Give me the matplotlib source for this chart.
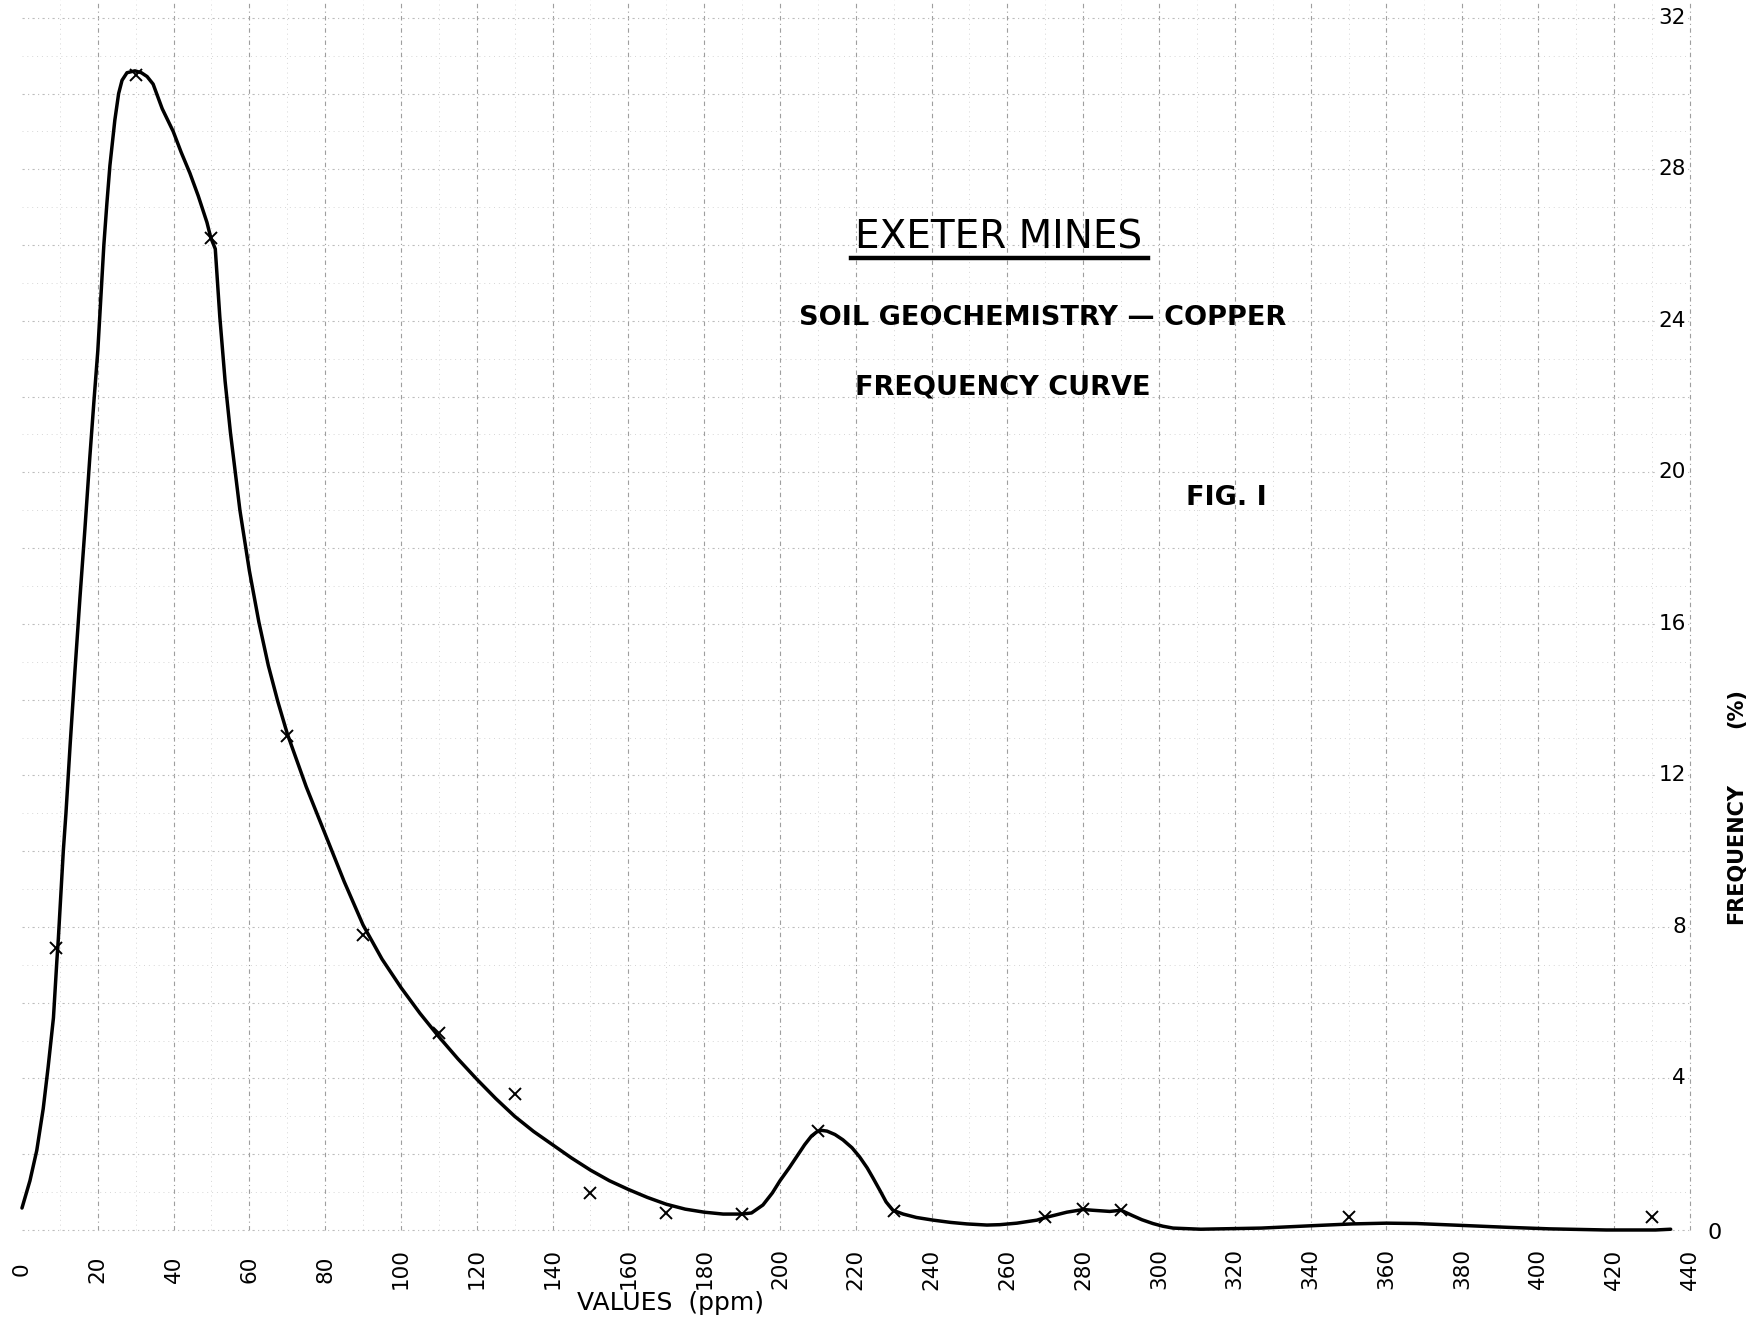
import matplotlib.pyplot as plt

# values
value_ticks = list(range(0, 441, 20))
freq_ticks = [4, 8, 12, 16, 20, 24, 28, 32]

# plotted points (x marks)
point_ppm = [9, 30, 50, 70, 90, 110, 130, 150, 170, 190, 210, 230, 270, 280, 290, 350, 430]
point_freq = [7.45, 30.5, 26.2, 13.05, 7.8, 5.2, 3.6, 0.97, 0.45, 0.42, 2.61, 0.5, 0.35, 0.55, 0.53, 0.34, 0.33]

# hand drawn curve, traced
curve_ppm = [0, 2.1, 3.9, 5.6, 6.9, 8.3, 9.2, 9.6, 10.9, 11.6, 12.7, 14.0, 15.3, 16.6, 17.9, 19.0,
             20.0, 20.8, 21.6, 22.4, 23.2, 24.5, 25.5, 26.4, 27.7, 29.8, 31.5, 33.0, 34.6, 37, 39.9,
             42, 44.3, 46.5, 48.8, 49.8, 51.0, 52.2, 53.6, 55, 57.5, 60, 62.5, 65, 67.5, 70, 75, 80,
             85, 90, 95, 100, 105, 110, 115, 120, 125, 130, 135, 140, 145, 150, 155, 160, 165,
             170, 175, 180, 185, 190, 192.5, 195.5, 198, 200, 202.5, 204.5, 206.5, 208.3, 209.7,
             211, 212.4, 214.5, 216.6, 219, 221, 223, 224.5, 226.5, 228, 229.8, 232.5, 236, 240.4,
             245, 249.3, 254.6, 258, 262.5, 267.8, 270.1, 275.7, 280, 282.6, 287, 290, 293, 295.5,
             298.4, 301, 303.7, 311, 327, 342, 351, 360, 368, 380, 392, 403, 418, 431, 435]
curve_freq = [0.58, 1.3, 2.1, 3.2, 4.3, 5.6, 7.1, 7.7, 10.0, 11.0, 12.8, 14.8, 16.7, 18.5, 20.4, 21.9,
              23.2, 24.6, 26.0, 27.1, 28.1, 29.3, 30.0, 30.35, 30.55, 30.6, 30.55, 30.45, 30.25, 29.6, 29.0,
              28.45, 27.9, 27.3, 26.6, 26.2, 25.9, 24.1, 22.4, 21.05, 19.0, 17.4, 16.05, 14.9, 13.95, 13.1, 11.7, 10.45,
              9.2, 8.05, 7.15, 6.4, 5.72, 5.1, 4.52, 3.98, 3.47, 3.0, 2.6, 2.25, 1.9, 1.58, 1.3, 1.07, 0.86,
              0.68, 0.55, 0.47, 0.42, 0.42, 0.45, 0.66, 0.98, 1.3, 1.65, 1.95, 2.25, 2.48, 2.59,
              2.63, 2.61, 2.52, 2.38, 2.17, 1.93, 1.64, 1.38, 1.02, 0.74, 0.52, 0.42, 0.33, 0.26,
              0.2, 0.16, 0.13, 0.14, 0.18, 0.26, 0.33, 0.47, 0.54, 0.52, 0.49, 0.52, 0.38, 0.27,
              0.17, 0.1, 0.05, 0.02, 0.05, 0.12, 0.16, 0.18, 0.17, 0.12, 0.07, 0.03, 0.0, 0.0, 0.02]

fig = plt.figure(figsize=(17.62, 13.19), dpi=100)
ax = fig.add_axes([0, 0, 1, 1])
ax.set_xlim(-5.8, 459.1)
ax.set_ylim(-2.35, 32.47)
ax.axis('off')

# graph paper
ax.vlines(range(10, 440, 20), 0, 32.47, color='0.84', lw=0.7, linestyle=(0, (1, 4)), zorder=1)
ax.hlines(range(1, 33, 2), 0, 440, color='0.84', lw=0.7, linestyle=(0, (1, 4)), zorder=1)
ax.vlines(range(20, 441, 20), 0, 32.47, color='0.62', lw=0.8, linestyle=(0, (4, 3, 1, 3)), zorder=1)
ax.hlines(range(0, 33, 2), 0, 440, color='0.74', lw=0.8, linestyle=(0, (2, 3, 1, 3)), zorder=1)

ax.plot(curve_ppm, curve_freq, color='black', lw=2.5, solid_capstyle='round',
        solid_joinstyle='round', zorder=3)
ax.plot(point_ppm, point_freq, 'x', color='black', ms=8, mew=1.4, zorder=4)

# axis labels
for v in value_ticks:
    ax.text(v, -1.03, str(v), rotation=90, ha='center', va='center', fontsize=15.5)
for f in freq_ticks:
    ax.text(439, f, str(f), ha='right', va='center', fontsize=15.5, zorder=2,
            bbox=dict(facecolor='white', edgecolor='none', pad=1))
ax.text(446.5, -0.08, '0', ha='center', va='center', fontsize=16)
ax.text(452.2, 9.93, 'FREQUENCY', rotation=90, ha='center', va='center', fontsize=15, fontweight='bold')
ax.text(452.2, 13.78, '(%)', rotation=90, ha='center', va='center', fontsize=15, fontweight='bold')
ax.text(171.2, -1.93, 'VALUES  (ppm)', ha='center', va='center', fontsize=18)

# titles
ax.text(257.8, 26.2, 'EXETER MINES', ha='center', va='center', fontsize=28, zorder=5)
ax.plot([218.7, 297.1], [25.66, 25.66], color='black', lw=3.2, zorder=5)
ax.text(269.4, 24.08, 'SOIL GEOCHEMISTRY — COPPER', ha='center', va='center', fontsize=19.5,
        fontweight='bold', zorder=5)
ax.text(258.8, 22.25, 'FREQUENCY CURVE', ha='center', va='center', fontsize=19.5,
        fontweight='bold', zorder=5)
ax.text(317.9, 19.32, 'FIG. I', ha='center', va='center', fontsize=19.5, fontweight='bold', zorder=5)

fig.savefig('out.png', dpi=100, facecolor='white')
